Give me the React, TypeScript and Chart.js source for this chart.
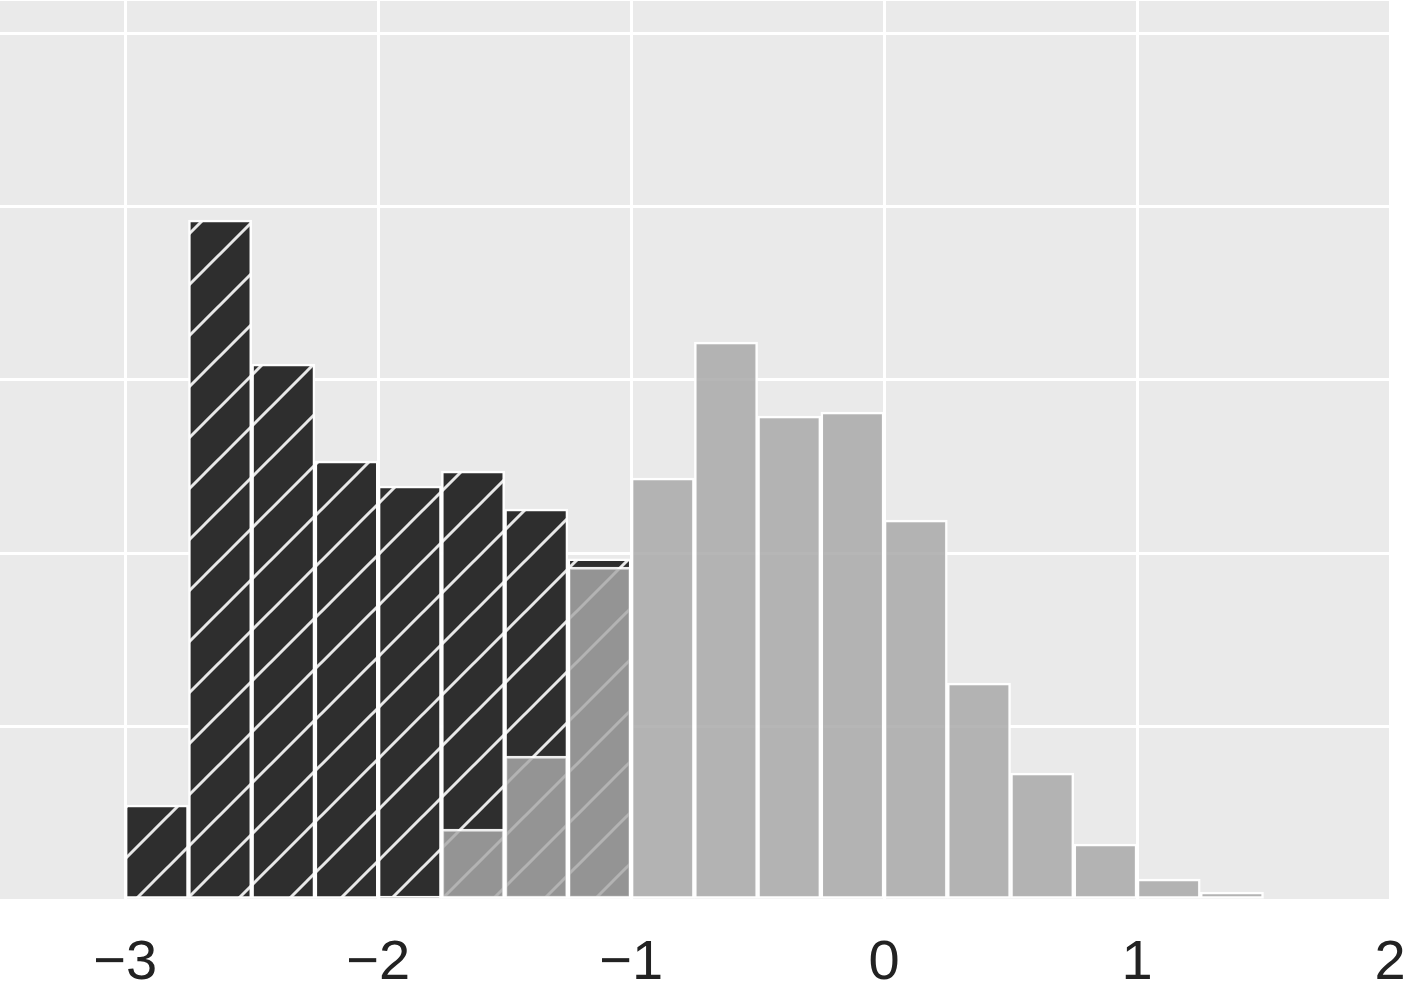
import React, { useEffect, useRef } from "react";
import { Chart, registerables } from "chart.js";

Chart.register(...registerables);

// Bin lower edges (bin width 0.25) and heights (in grid units)
const binWidth = 0.25;
const darkBinStarts = [-3, -2.75, -2.5, -2.25, -2, -1.75, -1.5, -1.25];
const darkValues = [0.548, 3.922, 3.091, 2.532, 2.388, 2.474, 2.255, 1.967];

const grayBinStarts = [-2, -1.75, -1.5, -1.25, -1, -0.75, -0.5, -0.25, 0, 0.25, 0.5, 0.75, 1, 1.25];
const grayValues = [0.023, 0.409, 0.83, 1.92, 2.434, 3.218, 2.791, 2.814, 2.191, 1.251, 0.732, 0.323, 0.121, 0.046];

const xTicks = [-3, -2, -1, 0, 1, 2];

function makeHatch(): CanvasPattern | string {
  const s = 51;
  const c = document.createElement("canvas");
  c.width = s;
  c.height = s;
  const ctx = c.getContext("2d");
  if (!ctx) return "#2e2e2e";
  ctx.fillStyle = "#2e2e2e";
  ctx.fillRect(0, 0, s, s);
  ctx.strokeStyle = "#e8e8e8";
  ctx.lineWidth = 3;
  for (const k of [0, s, 2 * s]) {
    ctx.beginPath();
    ctx.moveTo(k + s, -s);
    ctx.lineTo(-s, k + s);
    ctx.stroke();
  }
  const p = ctx.createPattern(c, "repeat");
  if (!p) return "#2e2e2e";
  try {
    p.setTransform(new DOMMatrix([1, 0, 0, 1, 15, 0]));
  } catch (e) {
    /* ignore */
  }
  return p;
}

const bgPlugin = {
  id: "plotBg",
  beforeDraw(chart: any) {
    const { ctx, chartArea } = chart;
    if (!chartArea) return;
    ctx.save();
    ctx.fillStyle = "#eaeaea";
    ctx.fillRect(chartArea.left, chartArea.top, chartArea.right - chartArea.left, chartArea.bottom - chartArea.top);
    ctx.restore();
  },
};

export default function App() {
  const ref = useRef<HTMLCanvasElement>(null);

  useEffect(() => {
    if (!ref.current) return;
    const hatch = makeHatch();
    const darkData = darkBinStarts.map((x, i) => ({ x: x + binWidth / 2, y: darkValues[i] }));
    const grayData = grayBinStarts.map((x, i) => ({ x: x + binWidth / 2, y: grayValues[i] }));
    const chart = new Chart(ref.current, {
      type: "bar",
      data: {
        datasets: [
          {
            label: "dark",
            data: darkData,
            backgroundColor: hatch as any,
            borderColor: "rgba(255,255,255,0.92)",
            borderWidth: 2.5,
            borderSkipped: false,
            order: 2,
          },
          {
            label: "gray",
            data: grayData,
            backgroundColor: "rgba(168,168,168,0.84)",
            borderColor: "rgba(255,255,255,0.92)",
            borderWidth: 2.5,
            borderSkipped: false,
            order: 1,
          },
        ],
      },
      options: {
        animation: false,
        responsive: false,
        devicePixelRatio: 1,
        grouped: false,
        barPercentage: 1,
        categoryPercentage: 1,
        layout: { padding: { left: 0, right: 0, top: 1, bottom: 0 } },
        plugins: { legend: { display: false }, tooltip: { enabled: false } },
        scales: {
          x: {
            type: "linear",
            min: -3.495,
            max: 2,
            offset: false,
            afterFit: (axis: any) => {
              axis.height = 92;
              axis.paddingRight = 24;
              axis.paddingLeft = 0;
            },
            afterBuildTicks: (axis: any) => {
              axis.ticks = xTicks.map((v) => ({ value: v }));
            },
            ticks: {
              stepSize: 1,
              includeBounds: false,
              autoSkip: false,
              maxRotation: 0,
              padding: 30,
              color: "#222222",
              font: { family: "'Liberation Sans', Arial, sans-serif", size: 56 },
              callback: (v: any) => (Number(v) < 0 ? "\u2212" + Math.abs(Number(v)) : String(v)),
            },
            grid: { color: "#ffffff", lineWidth: 3, drawTicks: false, offset: false },
            border: { display: false },
          },
          y: {
            type: "linear",
            min: 0,
            max: 5.185,
            afterFit: (axis: any) => {
              axis.width = 0;
            },
            ticks: { display: false, stepSize: 1, includeBounds: false },
            grid: { color: "#ffffff", lineWidth: 3, drawTicks: false },
            border: { display: false },
          },
        },
      } as any,
      plugins: [bgPlugin],
    });
    return () => chart.destroy();
  }, []);

  return (
    <div style={{ position: "absolute", left: 0, top: 0, width: 1414, height: 992, background: "#ffffff" }}>
      <canvas ref={ref} width={1414} height={992} style={{ display: "block" }} />
    </div>
  );
}
